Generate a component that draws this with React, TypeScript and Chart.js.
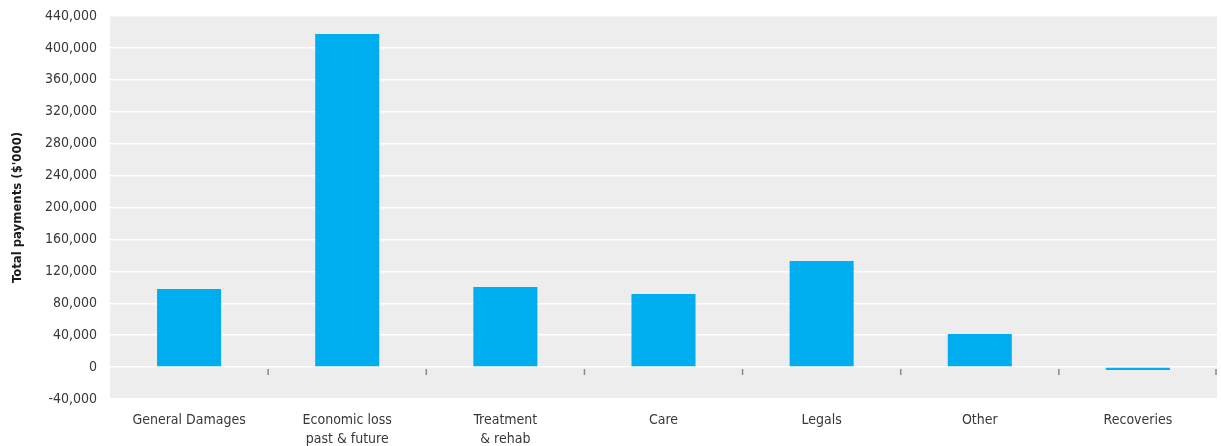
import React, { useEffect, useRef } from "react";
import { Chart, registerables } from "chart.js";

Chart.register(...registerables);

const categories: (string | string[])[] = [
  "General Damages",
  ["Economic loss", "past & future"],
  ["Treatment", "& rehab"],
  "Care",
  "Legals",
  "Other",
  "Recoveries",
];
const payments: number[] = [97800, 417500, 100300, 91500, 133000, 41400, -3800];
const yMin = -40000;
const yMax = 440000;
const yStep = 40000;
const yTitle = "Total payments ($'000)";

const FONT = "'DejaVu Sans Condensed', 'Liberation Sans Narrow', sans-serif";

const bgPlugin = {
  id: "bgPlugin",
  beforeDraw(chart: any) {
    const { ctx, chartArea } = chart;
    ctx.save();
    ctx.fillStyle = "#ededed";
    ctx.fillRect(chartArea.left, chartArea.top, chartArea.right - chartArea.left, chartArea.bottom - chartArea.top);
    ctx.restore();
  },
  afterDatasetsDraw(chart: any) {
    const { ctx, scales } = chart;
    const x = scales.x;
    const y = scales.y;
    const zero = y.getPixelForValue(0);
    const n = categories.length;
    ctx.save();
    ctx.strokeStyle = "#8a8a8a";
    ctx.lineWidth = 1.5;
    for (let i = 1; i <= n; i++) {
      const px = i < n ? (x.getPixelForTick(i - 1) + x.getPixelForTick(i)) / 2 : x.right - 1;
      ctx.beginPath();
      ctx.moveTo(px, zero + 2);
      ctx.lineTo(px, zero + 8);
      ctx.stroke();
    }
    ctx.restore();
  },
};

export default function App() {
  const ref = useRef<HTMLCanvasElement | null>(null);
  useEffect(() => {
    if (!ref.current) return;
    const chart = new Chart(ref.current, {
      type: "bar",
      data: {
        labels: categories,
        datasets: [
          {
            data: payments,
            backgroundColor: "#00aeef",
            borderWidth: 0,
            barPercentage: 0.81,
            categoryPercentage: 0.5,
          },
        ],
      },
      options: {
        animation: false,
        responsive: false,
        maintainAspectRatio: false,
        layout: { padding: { left: 0, right: 4, top: 0, bottom: 0 } },
        plugins: { legend: { display: false }, tooltip: { enabled: false } },
        scales: {
          x: {
            grid: { display: false, drawTicks: false },
            border: { display: false },
            ticks: {
              color: "#383838",
              font: { family: FONT, size: 14, lineHeight: 1.35 },
              padding: 12,
              maxRotation: 0,
              autoSkip: false,
            },
            afterFit(s: any) {
              s.height = 47;
            },
          },
          y: {
            min: yMin,
            max: yMax,
            border: { display: false },
            grid: { color: "#ffffff", lineWidth: 1.5, drawTicks: false },
            ticks: {
              stepSize: yStep,
              color: "#383838",
              font: { family: FONT, size: 14 },
              padding: 13,
            },
            title: {
              display: true,
              text: yTitle,
              color: "#1a1a1a",
              font: { family: FONT, size: 13, weight: "bold" },
              padding: { top: 10, bottom: 18 },
            },
            afterFit(s: any) {
              s.width = 110;
              s.paddingTop = 16;
              s.paddingBottom = 0;
            },
          },
        },
      },
      plugins: [bgPlugin],
    });
    return () => chart.destroy();
  }, []);
  return (
    <div style={{ position: "fixed", left: 0, top: 0, width: 1221, height: 446, background: "#fff" }}>
      <canvas ref={ref} width={1221} height={446} style={{ display: "block" }} />
    </div>
  );
}
